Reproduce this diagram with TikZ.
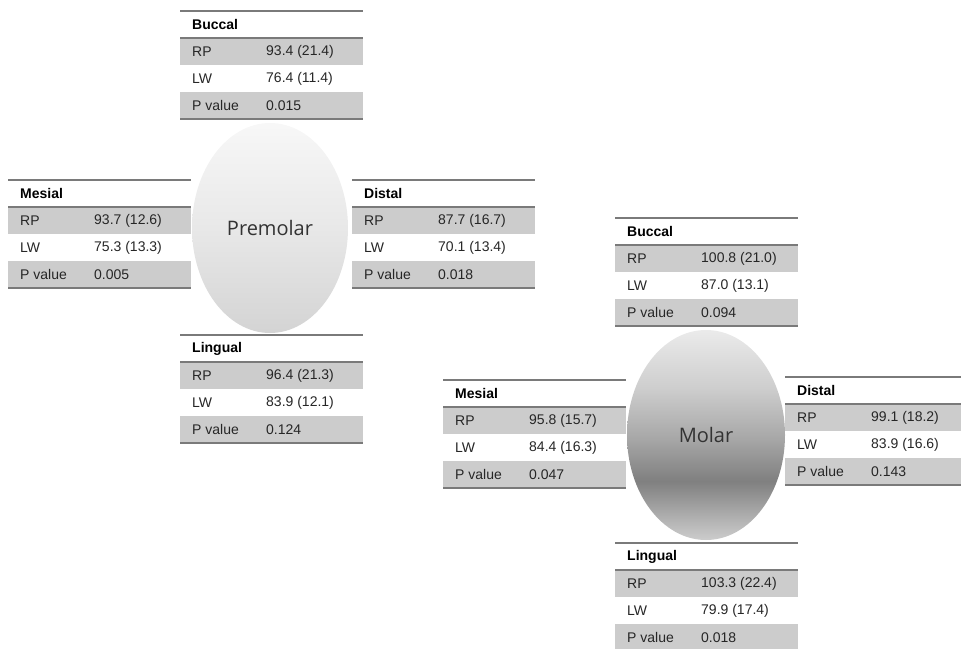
\documentclass[tikz,border=0pt]{standalone}
\usepackage{fontspec}
\setmainfont{Liberation Sans}
\newfontfamily\toothfont{Open Sans}
\usetikzlibrary{shapes.geometric}

\pgfdeclareverticalshading{premolarshade}{100bp}{color(0bp)=(black!17); color(25bp)=(black!17); color(50bp)=(black!9); color(75bp)=(black!3); color(100bp)=(black!3)}
\pgfdeclareverticalshading{molarshade}{100bp}{color(0bp)=(black!20); color(25bp)=(black!20); color(28bp)=(black!26); color(39bp)=(black!50); color(49.5bp)=(black!34); color(61.5bp)=(black!19); color(75bp)=(black!8); color(100bp)=(black!8)}

% #1 name, #2 left, #3 top, #4 side, #5 RP, #6 LW, #7 P value
\newcommand{\sitetable}[7]{%
  \fill[row band] (#2,#3+27) rectangle (#2+183,#3+54);
  \fill[row band] (#2,#3+81) rectangle (#2+183,#3+108);
  \draw[thin rule] (#2,#3) -- (#2+183,#3);
  \draw[thick rule] (#2,#3+27) -- (#2+183,#3+27);
  \draw[thick rule] (#2,#3+108) -- (#2+183,#3+108);
  \node[site head] (#1 head) at (#2+12,#3+13.5) {#4};
  \node[cell] (#1 rp) at (#2+12,#3+40.5) {RP};
  \node[cell] (#1 rp value) at (#2+86,#3+40.5) {#5};
  \node[cell] (#1 lw) at (#2+12,#3+67.5) {LW};
  \node[cell] (#1 lw value) at (#2+86,#3+67.5) {#6};
  \node[cell] (#1 p) at (#2+12,#3+94.5) {P value};
  \node[cell] (#1 p value) at (#2+86,#3+94.5) {#7};
}

\begin{document}
\begin{tikzpicture}
                [
                    x=1pt,
                    y=-1pt,
                    row band/.style={fill=black!20},
                    thin rule/.style={draw=black!52, line width=1.3pt},
                    thick rule/.style={draw=black!52, line width=2.6pt},
                    cell/.style={anchor=west, inner sep=0pt, text=black!85,
                        font=\fontsize{14}{16}\selectfont},
                    site head/.style={cell, text=black,
                        font=\fontsize{14}{16}\selectfont\bfseries},
                    tooth/.style={shape=ellipse, inner sep=0pt, text=black!80,
                        font=\toothfont\fontsize{20}{24}\selectfont}
                ]
                \useasboundingbox (0,0) rectangle (961,648);
                \clip (0,0) rectangle (961,648);

                \sitetable{pm buccal}{180}{11}{Buccal}{93.4 (21.4)}{76.4 (11.4)}{0.015}
                \sitetable{pm mesial}{8}{180}{Mesial}{93.7 (12.6)}{75.3 (13.3)}{0.005}
                \sitetable{pm distal}{352}{180}{Distal}{87.7 (16.7)}{70.1 (13.4)}{0.018}
                \sitetable{pm lingual}{180}{335}{Lingual}{96.4 (21.3)}{83.9 (12.1)}{0.124}

                \sitetable{m buccal}{615}{218}{Buccal}{100.8 (21.0)}{87.0 (13.1)}{0.094}
                \sitetable{m mesial}{443}{380}{Mesial}{95.8 (15.7)}{84.4 (16.3)}{0.047}
                \sitetable{m distal}{785}{377}{Distal}{99.1 (18.2)}{83.9 (16.6)}{0.143}
                \sitetable{m lingual}{615}{543}{Lingual}{103.3 (22.4)}{79.9 (17.4)}{0.018}

                \node (premolar)
                    [tooth, shading=premolarshade, minimum width=156pt,
                        minimum height=210pt]
                    at (270,228) {Premolar};

                \node (molar)
                    [tooth, shading=molarshade, minimum width=158pt,
                        minimum height=210pt]
                    at (706,435) {Molar};

            \end{tikzpicture}
\end{document}
